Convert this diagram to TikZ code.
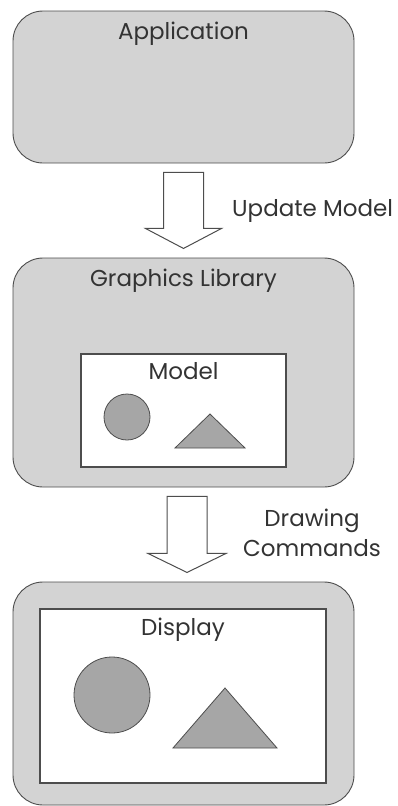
\documentclass[tikz,border=0pt]{standalone}
\usepackage{fontspec}
\setmainfont{Poppins}
\usetikzlibrary{positioning,calc}

\definecolor{boxgray}{HTML}{D3D3D3}
\definecolor{shapegray}{HTML}{A6A6A6}
\definecolor{edgegray}{HTML}{4D4D4D}
\definecolor{textgray}{HTML}{333333}

\tikzset{
  layer/.style={draw=edgegray, line width=0.9pt, fill=boxgray,
    rounded corners=30pt, minimum width=341pt, inner sep=0pt},
  canvas/.style={draw=edgegray, line width=1.2pt, fill=white, inner sep=0pt},
  title/.style={text=textgray, font=\fontsize{23}{30}\selectfont, inner sep=0pt},
  shapefill/.style={draw=edgegray, line width=0.8pt, fill=shapegray},
  blockarrow/.style={draw=edgegray, line width=1pt, fill=white, line join=miter},
}

\begin{document}
\begin{tikzpicture}[x=1pt, y=-1pt]
\useasboundingbox (0,0) rectangle (398,806);

% application layer
\node[layer, minimum height=152pt] (app) at (183.5,87) {};
\node[title] (apptitle) at ($(app.north)+(0,23)$) {Application};

% graphics library with its model
\node[layer, minimum height=229pt] (lib) at (183.5,372.5) {};
\node[title] (libtitle) at ($(lib.north)+(0,23)$) {Graphics Library};
\node[canvas, minimum width=205pt, minimum height=113pt] (model) at (183.5,410.5) {};
\node[title] (modeltitle) at ($(model.north)+(0,18)$) {Model};
\node[shapefill, circle, minimum size=46pt, inner sep=0pt] (modelcircle) at (127,417) {};
\draw[shapefill] (175,448) -- (245,448) -- (210,414) -- cycle;

% display with the drawn picture
\node[layer, minimum height=223pt] (disp) at (183.5,693.5) {};
\node[canvas, minimum width=286pt, minimum height=174pt] (screen) at (183,696) {};
\node[title] (disptitle) at ($(screen.north)+(0,21)$) {Display};
\node[shapefill, circle, minimum size=76pt, inner sep=0pt] (dispcircle) at (112,695) {};
\draw[shapefill] (173,748) -- (277,748) -- (225,688) -- cycle;

% block arrows between the layers
\draw[blockarrow] ($(app.south)+(-20,9)$) -- ++(40,0) -- ++(0,56)
  -- ++(18,0) -- ++(-38,20) -- ++(-38,-20) -- ++(18,0) -- cycle;
\node[title, anchor=west] (update) at (232,211) {Update Model};

\draw[blockarrow] ($(lib.south)+(-16.5,9)$) -- ++(40,0) -- ++(0,57)
  -- ++(19,0) -- ++(-39,19) -- ++(-39,-19) -- ++(19,0) -- cycle;
\node[title, align=center] (drawcmd) at (312,533) {Drawing\\Commands};
\end{tikzpicture}
\end{document}
